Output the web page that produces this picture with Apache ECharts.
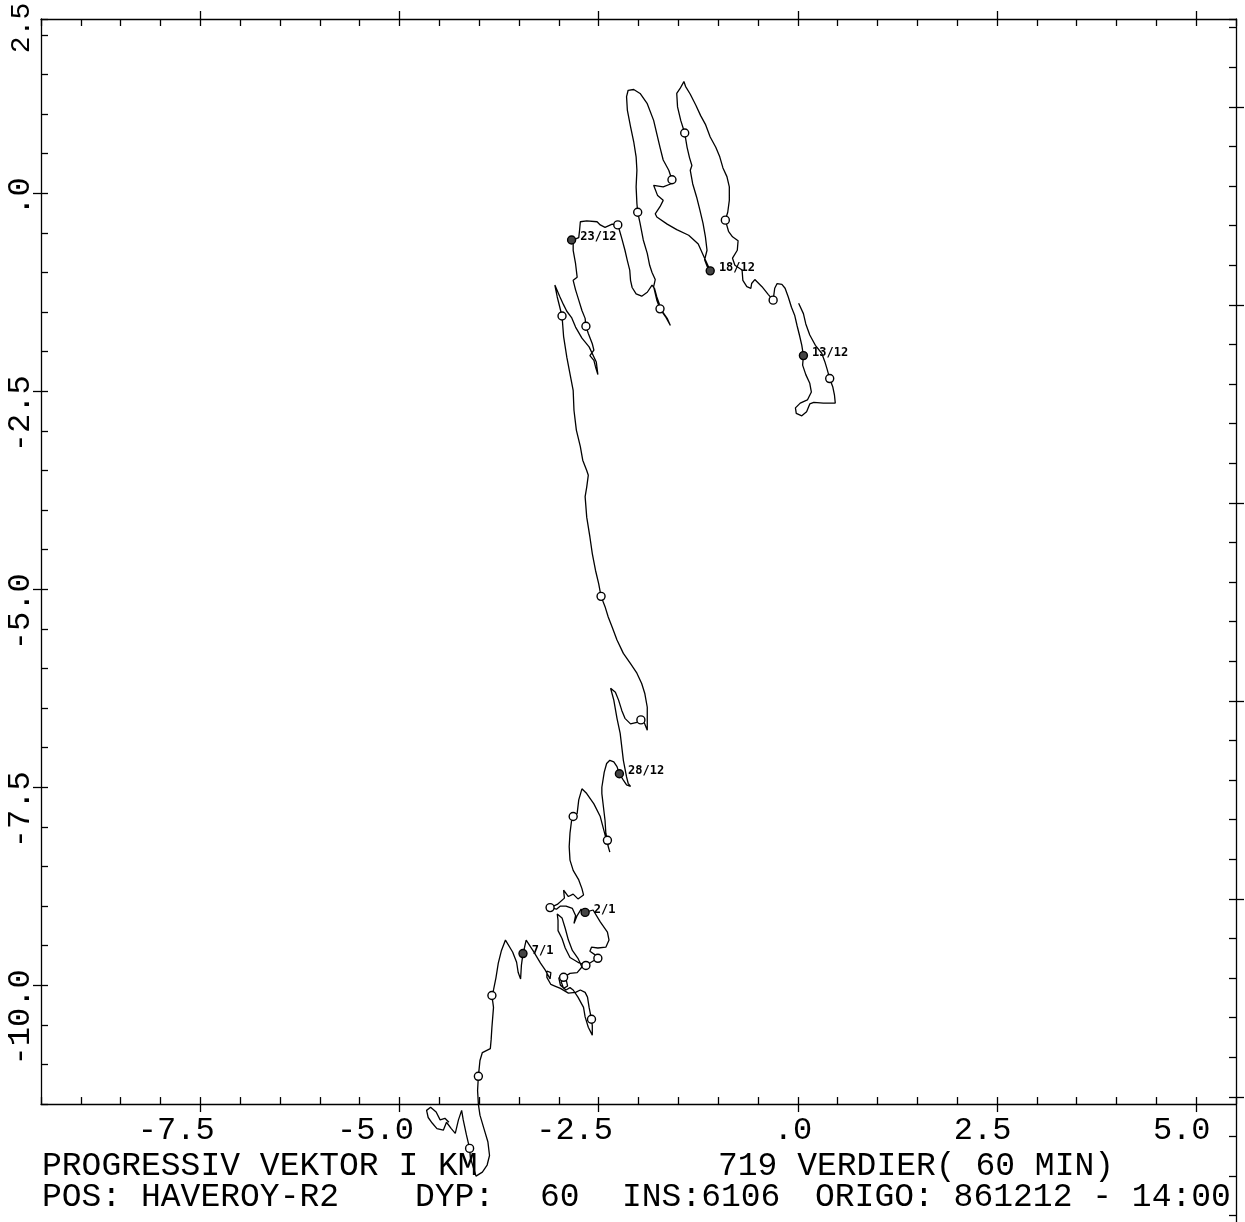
<!DOCTYPE html>
<html><head><meta charset="utf-8">
<script src="https://cdn.jsdelivr.net/npm/echarts@6/dist/echarts.min.js"></script>
<style>html,body{margin:0;padding:0;background:#fff}#c{width:1245px;height:1222px}</style>
</head><body><div id="c"></div>
<script>
// ---- data (km) ----
const track = [
[0.01,-1.39],[0.07,-1.52],[0.10,-1.65],[0.15,-1.79],[0.22,-1.92],[0.30,-2.02],[0.34,-2.13],[0.37,-2.23],[0.40,-2.34],[0.44,-2.45],[0.46,-2.55],[0.47,-2.65],[0.32,-2.65],[0.20,-2.64],[0.15,-2.66],[0.11,-2.76],[0.05,-2.81],[-0.02,-2.78],[-0.03,-2.71],[0.03,-2.65],[0.12,-2.61],[0.17,-2.51],[0.15,-2.40],[0.10,-2.29],[0.06,-2.17],[0.07,-2.05],[0.05,-1.92],[0.02,-1.79],[-0.01,-1.67],[-0.04,-1.54],[-0.08,-1.44],[-0.12,-1.31],[-0.16,-1.20],[-0.20,-1.15],[-0.26,-1.14],[-0.29,-1.20],[-0.31,-1.35],[-0.37,-1.28],[-0.45,-1.18],[-0.54,-1.09],[-0.58,-1.14],[-0.59,-1.20],[-0.64,-1.18],[-0.69,-1.10],[-0.70,-0.97],[-0.79,-0.91],[-0.82,-0.82],[-0.76,-0.72],[-0.75,-0.60],[-0.82,-0.55],[-0.87,-0.48],[-0.91,-0.34],[-0.88,-0.24],[-0.86,-0.09],[-0.86,0.08],[-0.89,0.21],[-0.94,0.32],[-0.98,0.46],[-1.03,0.58],[-1.10,0.71],[-1.16,0.87],[-1.22,0.98],[-1.28,1.11],[-1.35,1.25],[-1.41,1.35],[-1.43,1.41],[-1.48,1.32],[-1.52,1.26],[-1.51,1.09],[-1.47,0.92],[-1.42,0.76],[-1.39,0.58],[-1.36,0.45],[-1.33,0.35],[-1.35,0.29],[-1.32,0.12],[-1.27,-0.05],[-1.23,-0.21],[-1.19,-0.38],[-1.16,-0.55],[-1.14,-0.72],[-1.17,-0.84],[-1.14,-0.92],[-1.10,-0.98],
[-1.13,-0.91],[-1.18,-0.80],[-1.25,-0.64],[-1.37,-0.53],[-1.52,-0.46],[-1.64,-0.39],[-1.77,-0.30],[-1.79,-0.26],[-1.73,-0.17],[-1.69,-0.09],[-1.76,-0.03],[-1.81,0.10],[-1.69,0.08],[-1.59,0.12],[-1.58,0.17],[-1.62,0.29],[-1.69,0.42],[-1.73,0.58],[-1.77,0.75],[-1.81,0.92],[-1.89,1.13],[-1.98,1.26],[-2.06,1.31],[-2.13,1.30],[-2.15,1.22],[-2.14,1.05],[-2.10,0.84],[-2.06,0.65],[-2.03,0.46],[-2.02,0.29],[-2.03,0.08],[-2.02,-0.13],[-2.01,-0.24],[-1.98,-0.38],[-1.94,-0.59],[-1.89,-0.76],[-1.86,-0.91],[-1.83,-1.00],[-1.79,-1.09],[-1.81,-1.18],[-1.77,-1.35],[-1.73,-1.46],[-1.66,-1.56],[-1.60,-1.67],[-1.64,-1.58],[-1.71,-1.48],[-1.77,-1.31],[-1.80,-1.20],[-1.83,-1.16],[-1.89,-1.25],[-1.96,-1.30],[-2.03,-1.27],[-2.08,-1.19],[-2.10,-1.10],[-2.11,-0.97],[-2.14,-0.85],[-2.17,-0.72],[-2.21,-0.57],[-2.25,-0.43],[-2.26,-0.40],[-2.33,-0.39],[-2.42,-0.43],[-2.48,-0.40],[-2.52,-0.36],[-2.65,-0.35],[-2.73,-0.36],[-2.74,-0.47],[-2.75,-0.56],[-2.82,-0.59],[-2.84,-0.59],[-2.82,-0.72],[-2.79,-0.89],[-2.77,-1.06],[-2.82,-1.10],[-2.79,-1.22],[-2.75,-1.35],[-2.71,-1.48],[-2.67,-1.58],[-2.66,-1.68],[-2.63,-1.77],[-2.58,-1.90],[-2.56,-1.98],[-2.61,-2.05],[-2.56,-2.11],[-2.54,-2.19],[-2.51,-2.29],[-2.53,-2.13],[-2.62,-1.94],[-2.71,-1.83],[-2.79,-1.69],[-2.84,-1.57],[-2.90,-1.49],[-2.94,-1.41],[-2.99,-1.30],[-3.05,-1.16],[-3.02,-1.31],[-2.96,-1.55],
[-2.94,-1.81],[-2.90,-2.07],[-2.86,-2.28],[-2.82,-2.49],[-2.81,-2.74],[-2.78,-2.99],[-2.73,-3.20],[-2.70,-3.37],[-2.65,-3.50],[-2.63,-3.56],[-2.65,-3.71],[-2.67,-3.83],[-2.65,-4.09],[-2.61,-4.34],[-2.58,-4.55],[-2.54,-4.76],[-2.50,-4.93],[-2.47,-5.09],[-2.42,-5.22],[-2.38,-5.35],[-2.33,-5.48],[-2.27,-5.64],[-2.19,-5.81],[-2.10,-5.94],[-2.02,-6.06],[-1.96,-6.19],[-1.92,-6.32],[-1.89,-6.49],[-1.89,-6.65],[-1.89,-6.78],[-1.93,-6.68],[-1.97,-6.65],[-2.02,-6.68],[-2.10,-6.70],[-2.17,-6.63],[-2.21,-6.53],[-2.25,-6.40],[-2.29,-6.30],[-2.35,-6.25],[-2.31,-6.40],[-2.27,-6.63],[-2.23,-6.82],[-2.21,-6.99],[-2.19,-7.16],[-2.15,-7.37],[-2.13,-7.45],[-2.10,-7.49],[-2.15,-7.47],[-2.19,-7.41],[-2.24,-7.33],[-2.27,-7.24],[-2.31,-7.18],[-2.36,-7.16],[-2.40,-7.20],[-2.43,-7.31],[-2.46,-7.50],[-2.46,-7.58],[-2.44,-7.75],[-2.42,-7.92],[-2.41,-8.08],[-2.39,-8.17],[-2.38,-8.25],[-2.36,-8.32],[-2.41,-8.14],[-2.48,-7.87],[-2.56,-7.71],[-2.65,-7.58],[-2.71,-7.52],[-2.73,-7.54],[-2.75,-7.66],[-2.77,-7.83],[-2.82,-7.87],[-2.84,-7.92],[-2.86,-8.08],[-2.87,-8.25],[-2.86,-8.42],[-2.82,-8.55],[-2.75,-8.67],[-2.71,-8.78],[-2.69,-8.86],
[-2.76,-8.91],[-2.82,-8.85],[-2.88,-8.88],[-2.94,-8.80],[-2.93,-8.90],[-3.02,-8.98],[-3.11,-9.02],[-3.03,-9.04],[-2.98,-9.00],[-2.91,-9.00],[-2.83,-9.03],[-2.79,-9.12],[-2.81,-9.22],[-2.77,-9.12],[-2.72,-9.04],[-2.67,-9.08],[-2.57,-9.05],[-2.48,-9.20],[-2.39,-9.33],[-2.37,-9.43],[-2.41,-9.52],[-2.51,-9.53],[-2.59,-9.52],[-2.61,-9.57],[-2.54,-9.62],[-2.51,-9.66],[-2.58,-9.70],[-2.66,-9.75],[-2.76,-9.71],[-2.86,-9.65],[-2.92,-9.53],[-2.96,-9.41],[-3.01,-9.31],[-3.01,-9.18],[-3.02,-9.10],[-2.96,-9.15],[-2.92,-9.28],[-2.88,-9.43],[-2.83,-9.56],[-2.76,-9.66],[-2.71,-9.77],[-2.77,-9.84],[-2.86,-9.85],[-2.94,-9.90],[-2.97,-9.96],[-2.94,-10.04],[-2.89,-10.01],[-2.91,-9.92],[-2.96,-9.86],[-3.00,-9.91],[-2.98,-10.00],[-2.91,-10.06],[-2.86,-10.03],[-2.82,-10.06],[-2.76,-10.15],[-2.69,-10.28],[-2.67,-10.40],[-2.63,-10.53],[-2.58,-10.63],[-2.58,-10.51],[-2.59,-10.43],[-2.62,-10.28],[-2.64,-10.15],[-2.67,-10.09],[-2.73,-10.06],[-2.79,-10.09],[-2.88,-10.10],[-2.98,-10.04],[-3.05,-10.01],[-3.10,-9.99],[-3.15,-9.90],[-3.15,-9.82],[-3.10,-9.84],[-3.11,-9.92],[-3.17,-9.81],[-3.23,-9.72],[-3.32,-9.57],[-3.41,-9.43],[-3.43,-9.52],[-3.45,-9.60],[-3.47,-9.75],[-3.48,-9.92],[-3.51,-9.84],[-3.53,-9.71],[-3.58,-9.58],[-3.67,-9.43],[-3.72,-9.56],[-3.76,-9.72],[-3.79,-9.91],[-3.82,-10.06],[-3.84,-10.13],[-3.82,-10.28],[-3.84,-10.53],[-3.85,-10.69],[-3.86,-10.80],[-3.96,-10.85],[-3.99,-10.95],[-4.00,-11.05],[-4.01,-11.15],[-4.02,-11.33],[-4.01,-11.50],[-3.99,-11.64],[-3.94,-11.81],[-3.89,-11.98],[-3.87,-12.15],[-3.90,-12.27],[-3.96,-12.36],[-4.04,-12.41],[-4.07,-12.31],[-4.11,-12.18],[-4.12,-12.06],[-4.16,-11.89],[-4.20,-11.70],[-4.22,-11.58],[-4.26,-11.70],[-4.30,-11.87],[-4.35,-11.81],[-4.41,-11.73],[-4.45,-11.83],[-4.53,-11.81],[-4.59,-11.74],[-4.64,-11.67],[-4.66,-11.58],[-4.61,-11.54],[-4.54,-11.60],[-4.49,-11.70],[-4.43,-11.68],[-4.38,-11.73]
];
const dayMarks = [
[0.40,-2.34],[-0.31,-1.35],[-0.91,-0.34],[-1.42,0.76],[-1.58,0.17],[-2.01,-0.24],[-1.73,-1.46],[-2.26,-0.40],[-2.66,-1.68],[-2.96,-1.55],[-2.47,-5.09],[-1.97,-6.65],[-2.39,-8.17],[-2.82,-7.87],[-3.11,-9.02],[-2.51,-9.66],[-2.66,-9.75],[-2.94,-9.90],[-2.59,-10.43],[-3.84,-10.13],[-4.01,-11.15],[-4.12,-12.06]
];
const dateMarks = [[0.07,-2.05],[-1.10,-0.98],[-2.84,-0.59],[-2.24,-7.33],[-2.67,-9.08],[-3.45,-9.60]];
const dateNames = ['13/12','18/12','23/12','28/12','2/1','7/1'];
const xMajorTicks = [-7.5,-5,-2.5,0,2.5,5];
const xTickLabels = ['-7.5','-5.0','-2.5','.0','2.5','5.0'];
const yMajorTicks = [0,-2.5,-5,-7.5,-10];
const yTickLabels = ['.0','-2.5','-5.0','-7.5','-10.0'];
const topYLabel = '2.5';
const rightMajorTicks = [0,-2.5,-5,-7.5,-10,-12.5];
const footerLine1 = ['PROGRESSIV VEKTOR I KM','719 VERDIER( 60 MIN)'];
const footerLine2 = ['POS: HAVEROY-R2','DYP:','60','INS:6106','ORIGO: 861212 - 14:00'];

// ---- layout ----
const X_MIN=-9.5, X_MAX=5.5, Y_MIN=-11.5, Y_MAX=2.2;
const X_LABEL_SHIFT=0.18, Y_LABEL_SHIFT=0.2;
const FONT='"Liberation Mono", "DejaVu Sans Mono", monospace';
const ls = {color:'#000', width:1.3};
function pick(ticks, labels, shift){
  return function(v){ for(let i=0;i<ticks.length;i++){ if(Math.abs(ticks[i]+shift-v)<1e-6) return labels[i]; } return ''; };
}
function minorX(pos){return {gridIndex:0,type:'value',position:pos,min:X_MIN,max:X_MAX,interval:0.5,
  axisLine:{show:true,onZero:false,lineStyle:ls},axisTick:{show:true,inside:true,length:7,lineStyle:ls},
  axisLabel:{show:false},splitLine:{show:false}};}
function majorX(pos,withLabels){return {gridIndex:0,type:'value',position:pos,min:X_MIN,max:X_MAX,interval:0.5,
  axisLine:{show:false,onZero:false},axisTick:{show:true,inside:false,length:8,customValues:xMajorTicks,lineStyle:ls},
  axisLabel:withLabels?{show:true,customValues:xMajorTicks.map(v=>v+X_LABEL_SHIFT),formatter:pick(xMajorTicks,xTickLabels,X_LABEL_SHIFT),
    align:'right',margin:10,color:'#000',fontSize:32,fontFamily:FONT}:{show:false},splitLine:{show:false}};}

const chart = echarts.init(document.getElementById('c'), null, {renderer:'canvas'});
const RIGHT_MAX=1.11, RIGHT_MIN=-14.5;
const F33 = '33px '+FONT;
const option = {
  animation:false,
  backgroundColor:'#fff',
  grid:[
    {left:41,top:19,width:1195,height:(Y_MAX-Y_MIN)*79.2,outerBoundsMode:'none',containLabel:false},
    {left:41,top:19,width:1195,height:(RIGHT_MAX-RIGHT_MIN)*79.2,outerBoundsMode:'none',containLabel:false}
  ],
  xAxis:[ minorX('bottom'), majorX('bottom',true), minorX('top'), majorX('top',false),
    {gridIndex:1,type:'value',min:X_MIN,max:X_MAX,show:false} ],
  yAxis:[
    {gridIndex:0,type:'value',position:'left',min:Y_MIN,max:Y_MAX,interval:0.5,
     axisLine:{show:true,onZero:false,lineStyle:ls},axisTick:{show:true,inside:true,length:7,lineStyle:ls},
     axisLabel:{show:false},splitLine:{show:false}},
    {gridIndex:0,type:'value',position:'left',min:Y_MIN,max:Y_MAX,interval:0.5,
     axisLine:{show:false,onZero:false},axisTick:{show:true,inside:false,length:8,customValues:yMajorTicks,lineStyle:ls},
     axisLabel:{show:true,customValues:yMajorTicks.map(v=>v+Y_LABEL_SHIFT),formatter:pick(yMajorTicks,yTickLabels,Y_LABEL_SHIFT),
       rotate:90,align:'right',verticalAlign:'bottom',margin:4,color:'#000',fontSize:32,fontFamily:FONT},splitLine:{show:false}},
    {gridIndex:1,type:'value',position:'right',min:RIGHT_MIN,max:RIGHT_MAX,interval:0.5,
     axisLine:{show:true,onZero:false,lineStyle:ls},axisTick:{show:true,inside:true,length:7,lineStyle:ls},
     axisLabel:{show:false},splitLine:{show:false}},
    {gridIndex:1,type:'value',position:'right',min:RIGHT_MIN,max:RIGHT_MAX,interval:0.5,
     axisLine:{show:false,onZero:false},axisTick:{show:true,inside:false,length:8,customValues:rightMajorTicks,lineStyle:ls},
     axisLabel:{show:false},splitLine:{show:false}}
  ],
  series:[
    {type:'line',xAxisIndex:0,yAxisIndex:0,data:track,showSymbol:false,symbol:'none',clip:false,
     lineStyle:{color:'#000',width:1.3},z:3},
    {type:'scatter',xAxisIndex:0,yAxisIndex:0,data:dayMarks,symbol:'circle',symbolSize:8,clip:false,
     itemStyle:{color:'#fff',borderColor:'#000',borderWidth:1.4,opacity:1},z:4},
    {type:'scatter',xAxisIndex:0,yAxisIndex:0,data:dateMarks,symbol:'circle',symbolSize:8,clip:false,
     itemStyle:{color:'#444',borderColor:'#000',borderWidth:1.4,opacity:1},z:4,
     label:{show:true,position:'right',distance:4,offset:[0,-3],formatter:p=>dateNames[p.dataIndex],
       color:'#000',fontSize:12,fontWeight:'bold',fontFamily:'"DejaVu Sans Mono", monospace'}}
  ],
  graphic:[
    {type:'text',x:22,y:28,rotation:Math.PI/2,style:{text:topYLabel,font:'28px '+FONT,fill:'#000',textAlign:'center',textVerticalAlign:'middle'}},
    {type:'text',x:42,y:1166,style:{text:footerLine1[0],font:F33,fill:'#000',textAlign:'left',textVerticalAlign:'middle'}},
    {type:'text',x:718,y:1166,style:{text:footerLine1[1],font:F33,fill:'#000',textAlign:'left',textVerticalAlign:'middle'}},
    {type:'text',x:42,y:1197,style:{text:footerLine2[0],font:F33,fill:'#000',textAlign:'left',textVerticalAlign:'middle'}},
    {type:'text',x:415,y:1197,style:{text:footerLine2[1],font:F33,fill:'#000',textAlign:'left',textVerticalAlign:'middle'}},
    {type:'text',x:540,y:1197,style:{text:footerLine2[2],font:F33,fill:'#000',textAlign:'left',textVerticalAlign:'middle'}},
    {type:'text',x:622,y:1197,style:{text:footerLine2[3],font:F33,fill:'#000',textAlign:'left',textVerticalAlign:'middle'}},
    {type:'text',x:815,y:1197,style:{text:footerLine2[4],font:F33,fill:'#000',textAlign:'left',textVerticalAlign:'middle'}}
  ]
};
chart.setOption(option);
</script></body></html>
